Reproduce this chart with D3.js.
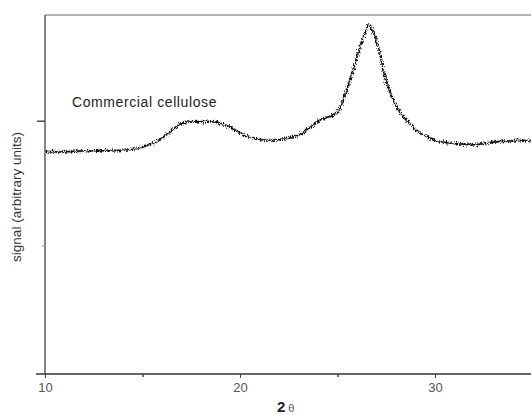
<!DOCTYPE html>
<html>
<head>
<meta charset="utf-8">
<script src="https://cdn.jsdelivr.net/npm/d3@7/dist/d3.min.js"></script>
<style>
  html, body { margin: 0; padding: 0; background: #fff; }
  svg { display: block; }
</style>
</head>
<body>
<div id="chart"></div>
<script>
// XRD pattern of commercial cellulose.
const W = 531, H = 417;

const twoTheta = [
  10.0, 11.0, 12.0, 12.8, 13.6, 14.4, 15.0, 15.4, 15.8, 16.2, 16.6, 16.9,
  17.4, 18.0, 18.7, 19.1, 19.5, 19.9, 20.3, 20.7, 21.0, 21.5, 22.1, 22.6,
  23.1, 23.4, 23.7, 24.0, 24.3, 24.6, 24.9, 25.1, 25.3, 25.5, 25.8, 26.1,
  26.3, 26.5, 26.6, 26.8, 27.0, 27.2, 27.4, 27.7, 28.0, 28.5, 29.2, 30.0,
  31.0, 32.0, 33.1, 34.1, 35.0
];
const signal = [
  1752, 1750, 1758, 1760, 1760, 1768, 1790, 1812, 1840, 1884, 1930, 1970,
  1990, 1992, 1990, 1972, 1950, 1910, 1880, 1860, 1848, 1846, 1850, 1866,
  1890, 1922, 1958, 1995, 2020, 2034, 2052, 2090, 2168, 2260, 2408, 2560,
  2664, 2740, 2768, 2720, 2640, 2520, 2370, 2230, 2120, 2010, 1906, 1842,
  1818, 1808, 1830, 1840, 1840
];

const xDomain = [10, 35];
const yDomain = [-32, 2848];
const xMajor = [10, 20, 30];
const xMinor = [15, 25];
const yTicks = [1000, 2000];

const m = { left: 45, right: 0, top: 15, bottom: 43 };
const FONT = 'Liberation Sans, Arial, sans-serif';

const x = d3.scaleLinear().domain(xDomain).range([m.left, m.left + 19.5 * 25]);
const y = d3.scaleLinear().domain(yDomain).range([H - m.bottom, m.top]);

const svg = d3.select('#chart').append('svg')
  .attr('width', W).attr('height', H)
  .attr('viewBox', `0 0 ${W} ${H}`);

// rough stroke to mimic the noisy detector trace
const defs = svg.append('defs');
const f = defs.append('filter').attr('id', 'rough')
  .attr('x', '-5%').attr('y', '-10%').attr('width', '110%').attr('height', '120%');
f.append('feTurbulence').attr('type', 'fractalNoise')
  .attr('baseFrequency', '1.1 0.45').attr('numOctaves', 2).attr('seed', 7).attr('result', 'n');
f.append('feDisplacementMap').attr('in', 'SourceGraphic').attr('in2', 'n')
  .attr('scale', 6).attr('xChannelSelector', 'R').attr('yChannelSelector', 'G');

const clip = defs.append('clipPath').attr('id', 'plotClip');
clip.append('rect').attr('x', m.left).attr('y', m.top).attr('width', W - m.left).attr('height', H - m.bottom - m.top);

// top frame line (grey)
svg.append('line')
  .attr('x1', m.left).attr('x2', W)
  .attr('y1', m.top).attr('y2', m.top)
  .attr('stroke', '#9a9a9a').attr('stroke-width', 1.5);

// curve
const pts = twoTheta.map((t, i) => [t, signal[i]]);
const line = d3.line()
  .x(d => x(d[0])).y(d => y(d[1]))
  .curve(d3.curveCatmullRom.alpha(0.5));

const g = svg.append('g').attr('clip-path', 'url(#plotClip)');
g.append('path')
  .datum(pts)
  .attr('d', line)
  .attr('fill', 'none')
  .attr('stroke', '#555')
  .attr('stroke-width', 2.6)
  .attr('stroke-opacity', 0.5)
  .attr('filter', 'url(#rough)');
g.append('path')
  .datum(pts)
  .attr('d', line)
  .attr('fill', 'none')
  .attr('stroke', '#111')
  .attr('stroke-width', 1.5)
  .attr('filter', 'url(#rough)');

// bottom axis
const axB = svg.append('g').attr('transform', `translate(0,${H - m.bottom})`);
axB.append('line').attr('x1', 36).attr('x2', W).attr('y1', 0).attr('y2', 0)
  .attr('stroke', '#333').attr('stroke-width', 1.3);
axB.append('g')
  .call(d3.axisBottom(x).tickValues(xMajor).tickSize(4).tickPadding(5).tickFormat(d3.format('d')))
  .call(s => s.select('.domain').remove())
  .call(s => s.selectAll('line').attr('stroke', '#444'))
  .call(s => s.selectAll('text').attr('fill', '#555').attr('font-size', 13)
    .attr('font-family', FONT));
axB.append('g')
  .call(d3.axisBottom(x).tickValues(xMinor).tickSize(3).tickFormat(''))
  .call(s => s.select('.domain').remove())
  .call(s => s.selectAll('line').attr('stroke', '#444').attr('stroke-width', 1.5));

// left axis
const axL = svg.append('g').attr('transform', `translate(${m.left},0)`);
axL.append('line').attr('x1', 0).attr('x2', 0).attr('y1', m.top).attr('y2', H - m.bottom)
  .attr('stroke', '#333').attr('stroke-width', 1.2);
axL.append('g')
  .call(d3.axisLeft(y).tickValues(yTicks).tickSize(0).tickFormat(''))
  .call(s => s.select('.domain').remove())
  .call(s => s.selectAll('.tick line')
    .attr('x2', d => d === 2000 ? -8 : -3)
    .attr('stroke', d => d === 2000 ? '#333' : '#aaa')
    .attr('stroke-width', 1.3));

// labels
svg.append('text')
  .attr('transform', `translate(21,197) rotate(-90)`)
  .attr('text-anchor', 'middle')
  .attr('font-family', FONT)
  .attr('font-size', 13.5).attr('fill', '#333')
  .text('signal (arbitrary units)');

svg.append('text')
  .attr('x', 72).attr('y', 107)
  .attr('font-family', FONT)
  .attr('font-size', 14).attr('letter-spacing', 0.6).attr('fill', '#222')
  .text('Commercial cellulose');

const xl = svg.append('text')
  .attr('x', 277).attr('y', 412)
  .attr('font-family', FONT)
  .attr('fill', '#222');
xl.append('tspan').attr('font-size', 15).attr('font-weight', 'bold').text('2');
xl.append('tspan').attr('font-size', 11).attr('fill', '#555').attr('dx', 3).text('θ');
</script>
</body>
</html>
